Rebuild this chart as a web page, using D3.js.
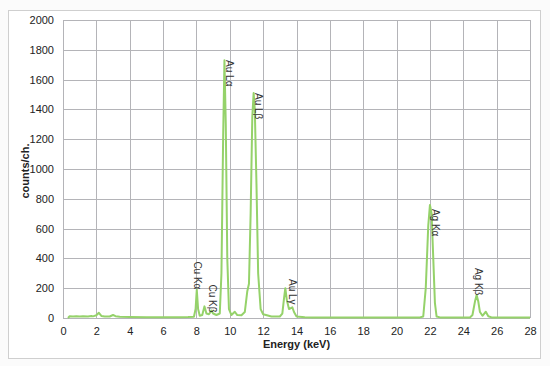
<!DOCTYPE html>
<html>
<head>
<meta charset="utf-8">
<script src="https://cdn.jsdelivr.net/npm/d3@7"></script>
<style>
  body { margin: 0; background: #fbfbfb; }
  svg { font-family: "Liberation Sans", Arial, sans-serif; }
</style>
</head>
<body>
<script>
// Spectrum (energy in keV, counts per channel)
const energia = [0.3, 0.4, 0.6, 0.8, 1.0, 1.2, 1.5, 1.7, 1.8, 2.0, 2.15, 2.3, 2.5, 2.8, 3.0, 3.15, 3.4, 4.0, 5.0, 6.0, 7.0, 7.5, 7.85,
  7.95, 8.02, 8.1, 8.2, 8.35, 8.48, 8.6, 8.75, 8.9, 9.0, 9.2, 9.4, 9.5, 9.6, 9.68, 9.76, 9.85, 9.95, 10.1, 10.3, 10.45, 10.7,
  10.9, 11.05, 11.15, 11.25, 11.35, 11.43, 11.5, 11.6, 11.7, 11.85, 12.0, 12.5, 13.0, 13.15, 13.25, 13.33, 13.42, 13.55, 13.75,
  13.85, 14.0, 14.5, 15.0, 16.0, 17.0, 18.0, 19.0, 20.0, 21.0, 21.4, 21.6, 21.75, 21.9, 22.0, 22.1, 22.2, 22.3, 22.4, 22.6,
  23.0, 24.0, 24.4, 24.55, 24.7, 24.8, 24.9, 25.0, 25.15, 25.35, 25.5, 25.7, 26.0, 27.0, 28.0];
const cuentas = [0, 12, 10, 12, 10, 11, 10, 14, 11, 18, 35, 14, 10, 10, 20, 12, 8, 6, 5, 5, 5, 6, 8,
  60, 190, 60, 15, 20, 78, 30, 25, 50, 30, 20, 30, 300, 1200, 1730, 1300, 400, 60, 20, 42, 20, 18,
  40, 180, 230, 700, 1350, 1510, 1400, 900, 300, 60, 25, 10, 10, 30, 130, 200, 120, 60, 72,
  40, 10, 5, 4, 4, 4, 4, 4, 4, 4, 4, 10, 200, 620, 758, 700, 400, 100, 10, 4,
  4, 4, 4, 20, 110, 155, 110, 40, 15, 42, 12, 4, 4, 4, 4];

// Peak labels and where each one starts (keV, counts)
const picos = ['Au L\u03b1', 'Au L\u03b2', 'Cu K\u03b1', 'Cu K\u03b2', 'Au L\u03b3', 'Ag K\u03b1', 'Ag K\u03b2'];
const picosE = [10.0, 11.75, 8.09, 8.99, 13.79, 22.36, 24.94];
const picosC = [1731, 1510, 380, 225, 262, 732, 336];

const ticksX = d3.range(0, 29, 2);
const ticksY = d3.range(0, 2001, 200);

const w = 550, h = 366;
const m = { left: 63, right: 530, top: 20, bottom: 318 };

const svg = d3.select('body').append('svg')
    .attr('width', w)
    .attr('height', h);

// marco exterior
svg.append('rect')
    .attr('x', 8.5).attr('y', 10.5)
    .attr('width', 532).attr('height', 348)
    .attr('fill', '#fff')
    .attr('stroke', '#cfcfcf');

const x = d3.scaleLinear().domain([0, 28]).range([m.left, m.right]);
const y = d3.scaleLinear().domain([0, 2000]).range([m.bottom, m.top]);

// rejilla
svg.append('g')
    .selectAll('line')
    .data(ticksX)
    .join('line')
    .attr('x1', d => Math.round(x(d)) + 0.5).attr('x2', d => Math.round(x(d)) + 0.5)
    .attr('y1', m.top).attr('y2', m.bottom)
    .attr('stroke', '#b4b4b8');

svg.append('g')
    .selectAll('line')
    .data(ticksY)
    .join('line')
    .attr('x1', m.left).attr('x2', m.right)
    .attr('y1', d => Math.round(y(d)) + 0.5).attr('y2', d => Math.round(y(d)) + 0.5)
    .attr('stroke', '#b4b4b8');

// ejes (solo etiquetas)
const xAxis = d3.axisBottom(x).tickValues(ticksX).tickSize(0).tickPadding(9);
svg.append('g')
    .attr('transform', 'translate(0,' + m.bottom + ')')
    .call(xAxis)
    .call(g => g.select('.domain').remove())
    .selectAll('text').attr('font-size', 11).attr('fill', '#222');

const yAxis = d3.axisLeft(y).tickValues(ticksY).tickFormat(d3.format('d')).tickSize(0).tickPadding(9);
svg.append('g')
    .attr('transform', 'translate(' + m.left + ',0)')
    .call(yAxis)
    .call(g => g.select('.domain').remove())
    .selectAll('text').attr('font-size', 11).attr('fill', '#222');

// titulos
svg.append('text')
    .attr('x', (m.left + m.right) / 2).attr('y', 348)
    .attr('text-anchor', 'middle')
    .attr('font-size', 11).attr('font-weight', 'bold').attr('fill', '#222')
    .text('Energy (keV)');

svg.append('text')
    .attr('transform', 'translate(29,171) rotate(-90)')
    .attr('text-anchor', 'middle')
    .attr('font-size', 11).attr('font-weight', 'bold').attr('fill', '#222')
    .text('counts/ch.');

// espectro
const linea = d3.line()
    .x((d, i) => x(energia[i]))
    .y(d => y(d));

svg.append('path')
    .datum(cuentas)
    .attr('d', linea)
    .attr('fill', 'none')
    .attr('stroke', '#95d26a')
    .attr('stroke-width', 2)
    .attr('stroke-linejoin', 'round');

// etiquetas de picos
svg.append('g')
    .selectAll('text')
    .data(picos)
    .join('text')
    .attr('transform', (d, i) => 'translate(' + x(picosE[i]) + ',' + y(picosC[i]) + ') rotate(90)')
    .attr('dominant-baseline', 'central')
    .attr('font-size', 10)
    .attr('fill', '#333')
    .text(d => d);
</script>
</body>
</html>
